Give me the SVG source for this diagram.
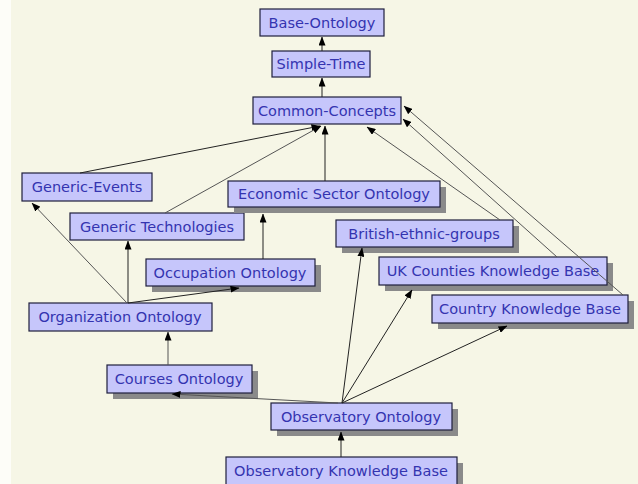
<svg xmlns="http://www.w3.org/2000/svg" width="638" height="484" viewBox="0 0 638 484">
<style>
.bg{fill:#f6f6e6}
.box{fill:#c6c6fb;stroke:#1e1e3c;stroke-width:1.2}
.sh{fill:#8a8a8a}
.t{font-family:"DejaVu Sans","Liberation Sans",sans-serif;font-size:14.5px;fill:#3434b0;text-anchor:middle}
.e{stroke:#222;stroke-width:1;fill:none;marker-end:url(#ah)}
.g{stroke:#555}
</style>
<defs>
<marker id="ah" markerWidth="9" markerHeight="7" refX="8.5" refY="3.5" orient="auto" markerUnits="userSpaceOnUse">
<path d="M0,0 L9,3.5 L0,7 z" fill="#000"/>
</marker>
</defs>
<rect class="bg" x="0" y="0" width="638" height="484"/>
<rect x="0" y="0" width="11" height="484" fill="#fdfdf8"/>
<g id="base-ontology"><rect class="box" x="260" y="9" width="124" height="27"/><text class="t" x="322" y="28">Base-Ontology</text></g>
<g id="simple-time"><rect class="box" x="272" y="51" width="98" height="26"/><text class="t" x="321" y="69">Simple-Time</text></g>
<g id="common-concepts"><rect class="box" x="253" y="97" width="148" height="27"/><text class="t" x="327" y="116">Common-Concepts</text></g>
<g id="generic-events"><rect class="box" x="22" y="173" width="130" height="28"/><text class="t" x="87" y="192">Generic-Events</text></g>
<g id="generic-technologies"><rect class="box" x="70" y="213" width="174" height="27"/><text class="t" x="157" y="232">Generic Technologies</text></g>
<g id="economic-sector-ontology"><rect class="sh" x="234" y="187" width="212" height="26"/><rect class="box" x="228" y="181" width="212" height="26"/><text class="t" x="334" y="199">Economic Sector Ontology</text></g>
<g id="british-ethnic-groups"><rect class="sh" x="342" y="226" width="177" height="27"/><rect class="box" x="336" y="220" width="177" height="27"/><text class="t" x="424" y="239">British-ethnic-groups</text></g>
<g id="uk-counties-kb"><rect class="sh" x="385" y="263" width="228" height="28"/><rect class="box" x="379" y="257" width="228" height="28"/><text class="t" x="493" y="276">UK Counties Knowledge Base</text></g>
<g id="country-kb"><rect class="sh" x="438" y="301" width="196" height="28"/><rect class="box" x="432" y="295" width="196" height="28"/><text class="t" x="530" y="314">Country Knowledge Base</text></g>
<g id="occupation-ontology"><rect class="sh" x="152" y="265" width="169" height="27"/><rect class="box" x="146" y="259" width="169" height="27"/><text class="t" x="230" y="278">Occupation Ontology</text></g>
<g id="organization-ontology"><rect class="box" x="29" y="303" width="183" height="28"/><text class="t" x="120" y="322">Organization Ontology</text></g>
<g id="courses-ontology"><rect class="sh" x="113" y="371" width="145" height="28"/><rect class="box" x="107" y="365" width="145" height="28"/><text class="t" x="179" y="384">Courses Ontology</text></g>
<g id="observatory-ontology"><rect class="sh" x="277" y="409" width="181" height="27"/><rect class="box" x="271" y="403" width="181" height="27"/><text class="t" x="361" y="422">Observatory Ontology</text></g>
<g id="observatory-kb"><rect class="sh" x="232" y="463" width="231" height="28"/><rect class="box" x="226" y="457" width="231" height="28"/><text class="t" x="341" y="476">Observatory Knowledge Base</text></g>
<g id="connectors">
<line class="e" x1="322" y1="51" x2="322" y2="37"/>
<line class="e" x1="322" y1="97" x2="322" y2="78"/>
<line class="e" x1="80" y1="173" x2="320" y2="126"/>
<line class="e g" x1="165" y1="213" x2="321" y2="126"/>
<line class="e" x1="325" y1="181" x2="325" y2="126"/>
<line class="e g" x1="500" y1="220" x2="367" y2="127"/>
<line class="e g" x1="557" y1="257" x2="403" y2="119"/>
<line class="e g" x1="623" y1="295" x2="404" y2="106"/>
<line class="e g" x1="127" y1="303" x2="32" y2="203"/>
<line class="e" x1="128" y1="303" x2="128" y2="241"/>
<line class="e" x1="128" y1="303" x2="239" y2="288"/>
<line class="e" x1="263" y1="259" x2="263" y2="214"/>
<line class="e g" x1="168" y1="365" x2="168" y2="332"/>
<line class="e g" x1="338" y1="403" x2="172" y2="394"/>
<line class="e" x1="342" y1="403" x2="362" y2="248"/>
<line class="e" x1="342" y1="403" x2="412" y2="290"/>
<line class="e" x1="342" y1="403" x2="507" y2="326"/>
<line class="e" x1="341" y1="457" x2="341" y2="432"/>
</g>
</svg>
